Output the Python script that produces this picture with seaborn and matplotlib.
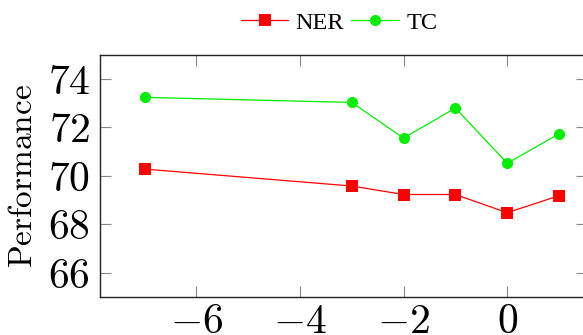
import matplotlib
matplotlib.use("Agg")
import matplotlib.pyplot as plt
import seaborn as sns
import pandas as pd

x_vals = [-7, -3, -2, -1, 0, 1]
ner = [70.28, 69.58, 69.23, 69.23, 68.48, 69.18]
tc = [73.24, 73.03, 71.56, 72.80, 70.52, 71.73]
series_names = ["NER", "TC"]
x_ticks = [-6, -4, -2, 0]
y_ticks = [66, 68, 70, 72, 74]

sns.set_style("white")
plt.rcParams["mathtext.fontset"] = "cm"
plt.rcParams["font.family"] = ["Liberation Serif", "DejaVu Serif"]
plt.rcParams["text.color"] = "black"
plt.rcParams["axes.labelcolor"] = "black"
plt.rcParams["xtick.labelcolor"] = "black"
plt.rcParams["ytick.labelcolor"] = "black"

df = pd.DataFrame({
    "x": x_vals * 2,
    "y": ner + tc,
    "series": [series_names[0]] * len(x_vals) + [series_names[1]] * len(x_vals),
})

W, H = 583, 335
fig = plt.figure(figsize=(W / 100, H / 100), dpi=100)
left, right, top, bottom = 100, 587, 54.7, 297
ax = fig.add_axes([left / W, 1 - bottom / H, (right - left) / W, (bottom - top) / H])

palette = {"NER": "#ff0000", "TC": "#00ee00"}
sns.lineplot(data=df, x="x", y="y", hue="series", style="series",
             markers={"NER": "s", "TC": "o"}, dashes=False, palette=palette,
             markersize=8, linewidth=0.9, markeredgewidth=0, ax=ax)

ax.set_xlim(-7.86, 1.54)
ax.set_ylim(65, 75)
ax.set_xticks(x_ticks)
ax.set_xticklabels([f"${v}$" for v in x_ticks], fontsize=30)
ax.set_yticks(y_ticks)
ax.set_yticklabels([f"${v}$" for v in y_ticks], fontsize=30)
ax.tick_params(direction="in", length=8, width=0.8, color="#888888",
               top=True, right=True, bottom=True, left=True)
ax.tick_params(axis="x", pad=5)
ax.tick_params(axis="y", pad=7)
for s in ax.spines.values():
    s.set_color("#222222")
    s.set_linewidth(1.0)
ax.set_xlabel("")
ax.set_ylabel(r"$\mathrm{Performance}$", fontsize=24, labelpad=6)

handles, labels = ax.get_legend_handles_labels()
leg = ax.legend(handles, labels, loc="center",
                bbox_to_anchor=(339 / W, 1 - 22.5 / H), bbox_transform=fig.transFigure,
                ncol=2, frameon=False, fontsize=17.5, handlelength=1.95,
                columnspacing=0.3, handletextpad=0.3, borderpad=0, borderaxespad=0)

fig.savefig("out.png", dpi=100)
